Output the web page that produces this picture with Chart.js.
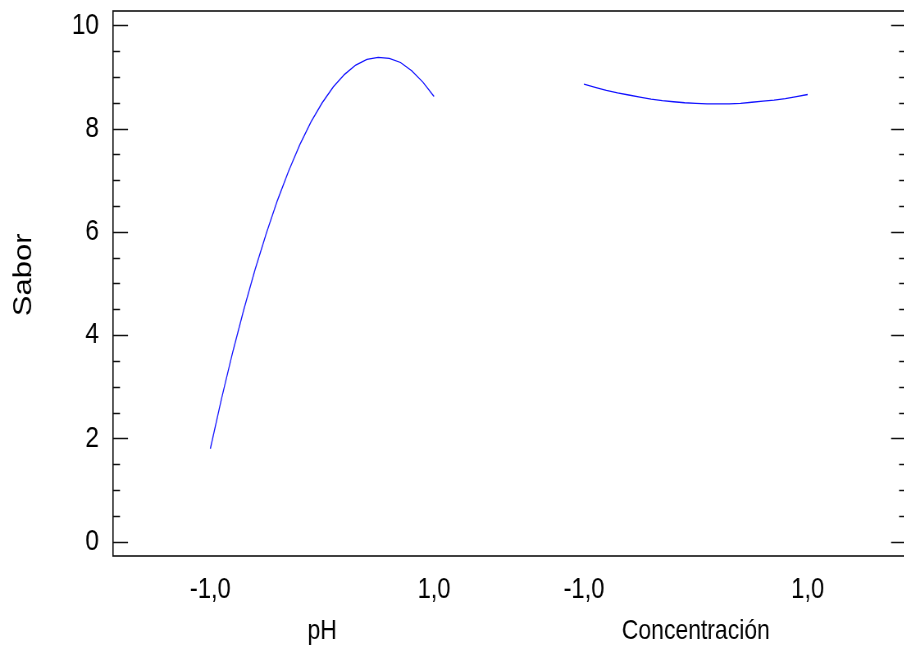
<!DOCTYPE html>
<html>
<head>
<meta charset="utf-8">
<script src="https://cdn.jsdelivr.net/npm/chart.js@4.4.0/dist/chart.umd.min.js"></script>
<style>
  html, body { margin: 0; padding: 0; background: #fff; overflow: hidden; }
  #wrap { width: 904px; height: 649px; overflow: hidden; }
  /* el original tiene el texto estrecho: se comprime todo en horizontal */
  #chart { transform: scaleX(0.82); transform-origin: 0 0; }
</style>
</head>
<body>
<div id="wrap"><canvas id="chart" width="1112" height="649"></canvas></div>
<script>
/* datos: niveles codificados -1..1 */
const niveles = [-1, -0.9, -0.8, -0.7, -0.6, -0.5, -0.4, -0.3, -0.2, -0.1, 0,
                 0.1, 0.2, 0.3, 0.4, 0.5, 0.6, 0.7, 0.8, 0.9, 1];
const saborPH = [1.80, 2.77, 3.67, 4.50, 5.27, 5.97, 6.61, 7.18, 7.69, 8.13, 8.50,
                 8.81, 9.05, 9.23, 9.34, 9.38, 9.36, 9.28, 9.12, 8.90, 8.62];
const saborConc = [8.86, 8.80, 8.74, 8.69, 8.65, 8.61, 8.57, 8.54, 8.52, 8.50, 8.49,
                   8.48, 8.48, 8.48, 8.49, 8.51, 8.53, 8.55, 8.58, 8.62, 8.66];
const factores = ["pH", "Concentración"];
const etiquetasX = ["-1,0", "1,0"];
const ticksY = [0, 0.5, 1, 1.5, 2, 2.5, 3, 3.5, 4, 4.5, 5, 5.5, 6, 6.5, 7, 7.5, 8, 8.5, 9, 9.5, 10];
const ticksYMayores = [0, 2, 4, 6, 8, 10];

// posicion de cada factor sobre el eje x
const CENTRO_PH = 1.87;
const CENTRO_CONC = 5.21;
const X_MAX = 7.09;
const Y_MIN = -0.277;
const Y_MAX = 10.277;

const ESCALA_X = 0.82;
const fuente = '"Liberation Sans", Arial, sans-serif';

/** ================================
 *  Marco y marcas hacia dentro
 =================================*/
const marco = {
    id: "marco",
    afterDraw(chart) {
        const { ctx, chartArea: a, scales: { y } } = chart;
        ctx.save();
        ctx.strokeStyle = "#111";
        ctx.lineWidth = 1.6;
        ctx.strokeRect(a.left, a.top, a.right - a.left, a.bottom - a.top);
        y.ticks.forEach(t => {
            const py = Math.round(y.getPixelForValue(t.value)) + 0.5;
            const len = (ticksYMayores.includes(t.value) ? 15 : 7) / ESCALA_X;
            ctx.beginPath();
            ctx.moveTo(a.left, py); ctx.lineTo(a.left + len, py);
            ctx.moveTo(a.right, py); ctx.lineTo(a.right - len, py);
            ctx.stroke();
        });
        ctx.restore();
    }
};

const serie = (centro, valores) => niveles.map((n, i) => ({ x: centro + n, y: valores[i] }));
const sinMargenes = s => { s.paddingLeft = 0; s.paddingRight = 0; s.paddingTop = 0; s.paddingBottom = 0; };

new Chart(document.getElementById("chart"), {
    type: "line",
    data: {
        datasets: [
            { data: serie(CENTRO_PH, saborPH), borderColor: "#1414ff", borderWidth: 1.3, pointRadius: 0, tension: 0 },
            { data: serie(CENTRO_CONC, saborConc), borderColor: "#1414ff", borderWidth: 1.3, pointRadius: 0, tension: 0 }
        ]
    },
    options: {
        responsive: false,
        animation: false,
        layout: { padding: { top: 11, right: 7, left: 0, bottom: 0 } },
        plugins: { legend: { display: false }, tooltip: { enabled: false } },
        scales: {
            x: {
                type: "linear", position: "bottom", min: 0, max: X_MAX,
                grid: { display: false, drawTicks: false }, border: { display: false },
                afterBuildTicks: s => {
                    s.ticks = [CENTRO_PH - 1, CENTRO_PH + 1, CENTRO_CONC - 1, CENTRO_CONC + 1].map(v => ({ value: v }));
                },
                ticks: {
                    autoSkip: false, maxRotation: 0, padding: 17, color: "#000",
                    font: { family: fuente, size: 29 },
                    callback: (v, i) => etiquetasX[i % 2]
                },
                afterFit: s => { s.height = 52; sinMargenes(s); }
            },
            x2: {
                type: "linear", position: "bottom", min: 0, max: X_MAX,
                grid: { display: false, drawTicks: false }, border: { display: false },
                afterBuildTicks: s => {
                    s.ticks = [CENTRO_PH, CENTRO_CONC].map(v => ({ value: v }));
                },
                ticks: {
                    autoSkip: false, maxRotation: 0, padding: 6, color: "#000",
                    font: { family: fuente, size: 28 },
                    callback: (v, i) => factores[i]
                },
                afterFit: s => { s.height = 41; sinMargenes(s); }
            },
            y: {
                type: "linear", min: Y_MIN, max: Y_MAX,
                grid: { display: false, drawTicks: false }, border: { display: false },
                afterBuildTicks: s => { s.ticks = ticksY.map(v => ({ value: v })); },
                ticks: {
                    autoSkip: false, padding: 17, color: "#000",
                    font: { family: fuente, size: 30 },
                    callback: v => ticksYMayores.includes(v) ? String(v) : ""
                },
                title: {
                    display: true, text: "  Sabor", color: "#000",
                    font: { family: fuente, size: 31 },
                    padding: { top: 11, bottom: 0 }
                },
                afterFit: s => { s.width = 113 / ESCALA_X; sinMargenes(s); }
            }
        }
    },
    plugins: [marco]
});
</script>
</body>
</html>
